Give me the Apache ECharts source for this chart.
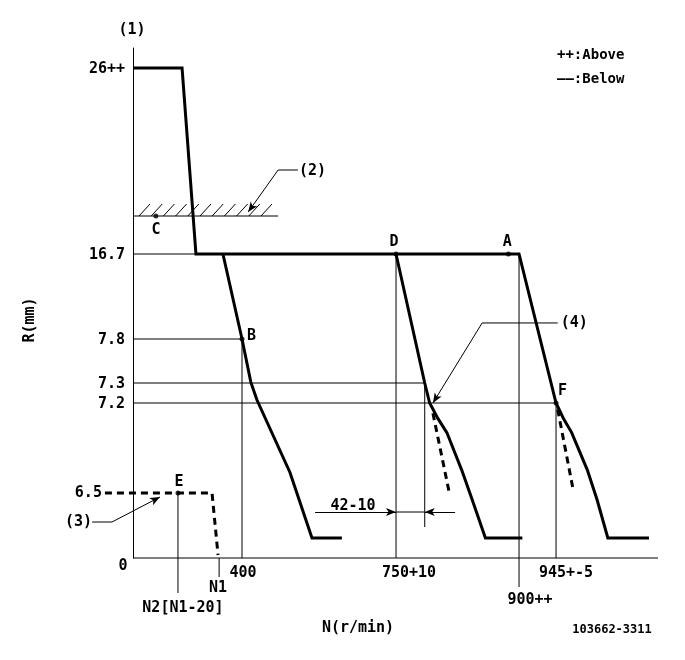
<!DOCTYPE html>
<html><head><meta charset="utf-8">
<script src="https://cdn.jsdelivr.net/npm/echarts@6/dist/echarts.min.js"></script>
<style>html,body{margin:0;padding:0;background:#fff}#c{width:685px;height:660px}</style>
</head><body><div id="c"></div>
<script>
// ---------- data (N in r/min, R in mm) ----------
const xTickValues = [0, 400, 750, 900, 945];
const xTickLabels = ['0', '400', '750+10', '900++', '945+-5'];
const yTickValues = [0, 6.5, 7.2, 7.3, 7.8, 16.7, 26];
const yTickLabels = ['0', '6.5', '7.2', '7.3', '7.8', '16.7', '26++'];
const N2 = 165, N1 = 316;
const mainCurve = [[0, 26], [180, 26], [231, 16.7], [900, 16.7], [945, 7.2], [954, 7.08], [964, 6.97], [983, 6.68], [995, 5.8], [1008, 2.0], [1058, 2.0]];
const midCurve = [[750, 16.7], [785, 7.3], [791, 7.2], [801, 7.08], [812, 6.97], [830, 6.68], [843, 5.8], [859, 2.0], [904, 2.0]];
const idleCurve = [[330, 16.7], [400, 7.8], [420, 7.31], [434, 7.215], [509, 6.66], [559, 2.0], [627, 2.0]];
const startCurve = [[-103, 6.5], [290, 6.5], [312, 0.3]];
const midDashed = [[795, 7.12], [815, 6.5]];
const rightDashed = [[947, 7.15], [966, 6.52]];
const stopLevel = 18.6;      // hatched limit (2)
const pointNames = ['A', 'B', 'C', 'D', 'E', 'F'];
const pointValues = [[887, 16.7], [400, 7.8], [84, 18.6], [750, 16.7], [N2, 6.5], [945, 7.2]];
const dimLabel = '42-10';
const xMaxN = 1069, yMaxR = 27;

// ---------- schematic scale (axis layout, non-linear drawing) ----------
const xStops = [[0, 0], [400, 109], [750, 263], [900, 386], [945, 423]];
const yStops = [[0, 0], [6.5, 65], [7.2, 155], [7.3, 175], [7.8, 219], [16.7, 304], [26, 490]];
function interp(stops, v) {
  let i = 0;
  while (i < stops.length - 2 && v > stops[i + 1][0]) i++;
  const [a0, b0] = stops[i], [a1, b1] = stops[i + 1];
  return b0 + (v - a0) * (b1 - b0) / (a1 - a0);
}
const toS = p => [interp(xStops, p[0]), interp(yStops, p[1])];

const FONT = '"DejaVu Sans Mono", "Liberation Mono", monospace';
const chart = echarts.init(document.getElementById('c'), null, {renderer: 'canvas'});

function lineS(data, width, dashed) {
  return {
    type: 'line', data: data.map(toS), symbol: 'none', clip: false, silent: true, animation: false,
    lineStyle: {color: '#000', width: width, type: dashed ? [7, 5] : 'solid', cap: 'butt', join: 'miter'}
  };
}
function seg(a, b) { return [{coord: toS(a)}, {coord: toS(b)}]; }

// hatch decoration above the stop line
const hatch = [];
for (let i = 0; i < 11; i++) {
  const x0 = 6 + i * 12.2, y0 = interp(yStops, stopLevel);
  hatch.push([x0, y0], [x0 + 11, y0 + 12], [null, null]);
}

const thinLines = [
  [[0, 0], [xMaxN, 0]],
  [[0, 16.7], [231, 16.7]],
  [[0, 7.8], [400, 7.8]],
  [[0, 7.3], [785, 7.3]],
  [[0, 7.2], [945, 7.2]],
  [[400, 7.8], [400, 0]],
  [[750, 16.7], [750, 0]],
  [[900, 16.7], [900, -2.9]],
  [[945, 7.2], [945, 0]],
  [[N2, 6.5], [N2, -3.5]],
  [[N1, 0], [N1, -1.9]],
  [[785, 7.3], [785, 3.1]],
  [[0, stopLevel], [482, stopLevel]],
  [[750, 4.6], [785, 4.6]],
  [[482, 20.9], [527, 20.9]],
  [[-150, 3.6], [-77, 3.6]],
  [[855, 9.48], [947, 9.48]]
];
const series = [];
thinLines.forEach(l => series.push(lineS(l, 1, false)));
series.push({type: 'line', data: hatch, symbol: 'none', clip: false, silent: true, animation: false, connectNulls: false,
  lineStyle: {color: '#000', width: 1}});
series.push(lineS(mainCurve, 3, false));
series.push(lineS(midCurve, 3, false));
series.push(lineS(idleCurve, 3, false));
series.push(lineS(startCurve, 3, true));
series.push(lineS(midDashed, 3, true));
series.push(lineS(rightDashed, 3, true));
series.push({
  type: 'scatter', data: pointValues.map(toS), symbol: 'circle', symbolSize: 5, clip: false, silent: true,
  animation: false, itemStyle: {color: '#000'}
});
series.push({
  type: 'line', data: [], clip: false, silent: true, animation: false,
  markLine: {
    silent: true, animation: false, symbol: ['none', 'arrow'], symbolSize: [6, 10],
    label: {show: false}, lineStyle: {color: '#000', width: 1, type: 'solid'},
    data: [
      seg([482, 20.9], [414, 18.8]),
      seg([-77, 3.6], [99, 6.1]),
      seg([855, 9.48], [795, 7.2]),
      seg([566, 4.6], [750, 4.6]),
      seg([822, 4.6], [785, 4.6])
    ]
  }
});

const sMax = toS([xMaxN, yMaxR]);
chart.setOption({
  animation: false,
  grid: {left: 87, right: 27, top: 48, bottom: 102, containLabel: false},
  xAxis: {type: 'value', min: -46, max: sMax[0], axisLine: {show: false},
    axisTick: {show: false}, axisLabel: {show: false}, splitLine: {show: false}},
  yAxis: {type: 'value', min: 0, max: sMax[1], axisLine: {show: true, onZero: true, lineStyle: {color: '#000', width: 1}},
    axisTick: {show: false}, axisLabel: {show: false}, splitLine: {show: false}},
  series: series
});

// ---------- text ----------
const px = p => chart.convertToPixel({xAxisIndex: 0, yAxisIndex: 0}, toS(p));
const texts = [];
function addText(p, off, text, align, size) {
  const q = px(p);
  texts.push({type: 'text', x: q[0] + off[0], y: q[1] + off[1], silent: true,
    style: {text: text, font: 'bold ' + (size || 15) + 'px ' + FONT, fill: '#000', align: align || 'center', verticalAlign: 'middle'}});
}
yTickValues.forEach((v, i) => {
  if (v === 0) addText([0, 0], [-10, 8], yTickLabels[i], 'center');
  else if (v === 6.5) addText(startCurve[0], [-3, 0], yTickLabels[i], 'right');
  else addText([0, v], [-8, 1], yTickLabels[i], 'right');
});
const xOff = {'400': [[400, 0], [1, 15]], '750+10': [[750, 0], [13, 15]], '900++': [[900, -2.9], [11, 13]], '945+-5': [[945, 0], [10, 15]]};
xTickLabels.forEach(t => { if (xOff[t]) addText(xOff[t][0], xOff[t][1], t, 'center'); });
addText([N1, -1.9], [-1, 11], 'N1', 'center');
addText([N2, -3.5], [5, 15], 'N2[N1-20]', 'center');
addText([566, 4.6], [38, -6], dimLabel, 'center');
const pOff = {A: [[-1, -12], 'center'], B: [[5, -3], 'left'], C: [[0, 14], 'center'], D: [[-2, -12], 'center'], E: [[1, -11], 'center'], F: [[2, -12], 'left']};
pointNames.forEach((n, i) => addText(pointValues[i], pOff[n][0], n, pOff[n][1]));
addText([527, 20.9], [1, 1], '(2)', 'left');
addText([-150, 3.6], [0, 0], '(3)', 'right');
addText([947, 9.48], [3, 0], '(4)', 'left');
const fixed = [
  {x: 132, y: 30, t: '(1)', a: 'center', s: 15},
  {x: 557, y: 55, t: '++:Above', a: 'left', s: 14},
  {x: 557, y: 79, t: '——:Below', a: 'left', s: 14},
  {x: 358, y: 628, t: 'N(r/min)', a: 'center', s: 15},
  {x: 612, y: 630, t: '103662-3311', a: 'center', s: 12}
];
fixed.forEach(f => texts.push({type: 'text', x: f.x, y: f.y, silent: true,
  style: {text: f.t, font: 'bold ' + f.s + 'px ' + FONT, fill: '#000', align: f.a, verticalAlign: 'middle'}}));
texts.push({type: 'text', x: 30, y: 320, rotation: Math.PI / 2, silent: true,
  style: {text: 'R(mm)', font: 'bold 15px ' + FONT, fill: '#000', align: 'center', verticalAlign: 'middle'}});
chart.setOption({graphic: texts});
</script></body></html>
